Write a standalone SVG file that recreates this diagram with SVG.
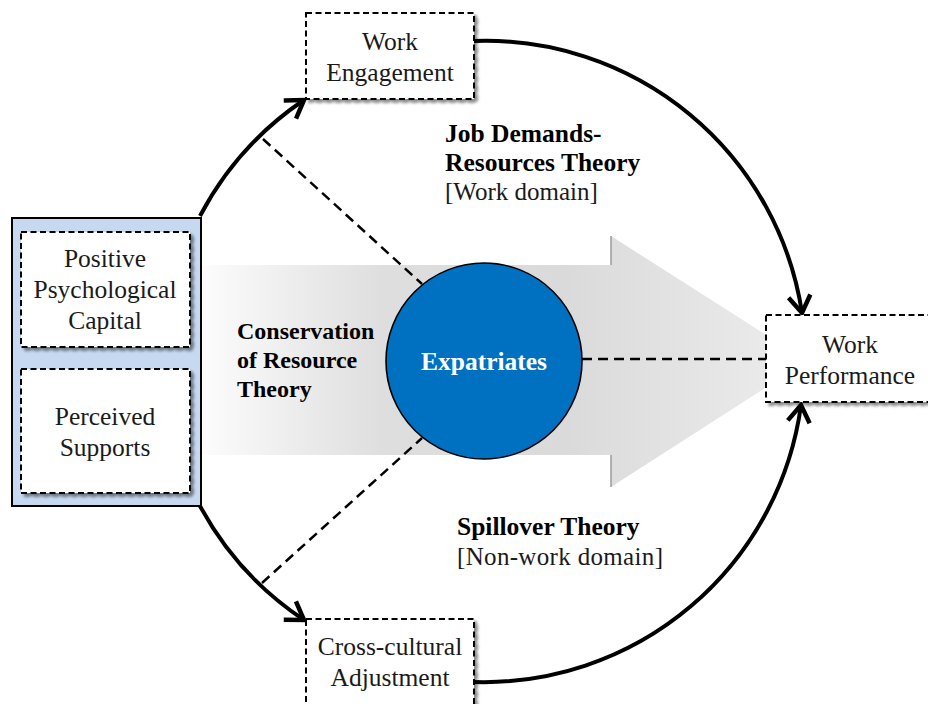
<svg xmlns="http://www.w3.org/2000/svg" width="928" height="704" viewBox="0 0 928 704">
<defs>
<linearGradient id="arrowGrad" gradientUnits="userSpaceOnUse" x1="202" y1="0" x2="807" y2="0">
<stop offset="0" stop-color="#fcfcfc"/>
<stop offset="0.3" stop-color="#dedede"/>
<stop offset="0.6" stop-color="#dadada"/>
<stop offset="1" stop-color="#ededed"/>
</linearGradient>
<filter id="shadow" x="-10%" y="-10%" width="130%" height="130%">
<feGaussianBlur in="SourceAlpha" stdDeviation="1.8"/>
<feOffset dx="2.5" dy="2.5" result="b"/>
<feComponentTransfer><feFuncA type="linear" slope="0.45"/></feComponentTransfer>
<feMerge><feMergeNode/><feMergeNode in="SourceGraphic"/></feMerge>
</filter>
<marker id="open" markerUnits="userSpaceOnUse" markerWidth="34" markerHeight="34" refX="0" refY="0" viewBox="-22 -17 26 34" orient="auto">
<path d="M -17 -11 L 0 0 L -17 11" fill="none" stroke="#000" stroke-width="4.5" stroke-linejoin="miter" stroke-linecap="butt"/>
</marker>
</defs>
<style>
.box{fill:#fff;stroke:#000;stroke-width:2;stroke-dasharray:6 3.5;}
.txt{font-family:"Liberation Serif","Times New Roman",serif;font-size:25.5px;fill:#1a1a1a;text-anchor:middle;}
.bold{font-family:"Liberation Serif","Times New Roman",serif;font-weight:bold;font-size:25.5px;fill:#000;}
.cor{font-family:"Liberation Serif","Times New Roman",serif;font-weight:bold;font-size:24px;fill:#000;}
.reg{font-family:"Liberation Serif","Times New Roman",serif;font-size:25px;fill:#1a1a1a;}
.curve{fill:none;stroke:#000;stroke-width:4;}
.dash{fill:none;stroke:#000;stroke-width:2.5;stroke-dasharray:10 6;}
</style>
<rect width="928" height="704" fill="#fff"/>

<g id="cor-arrow">
<path d="M 202 265 L 611 265 L 611 236 L 807 361 L 611 487 L 611 455 L 202 455 Z" fill="url(#arrowGrad)"/>
<line x1="611" y1="236" x2="611" y2="265" stroke="#9a9a9a" stroke-width="1.5"/>
<line x1="611" y1="455" x2="611" y2="487" stroke="#9a9a9a" stroke-width="1.5"/>
<text class="cor" x="237" y="339">Conservation</text>
<text class="cor" x="237" y="368">of Resource</text>
<text class="cor" x="237" y="397">Theory</text>
</g>

<g id="connectors">
<path class="curve" d="M 200 216 A 319 319 0 0 1 304 100" marker-end="url(#open)"/>
<path class="curve" d="M 474 41 A 320 320 0 0 1 802 313" marker-end="url(#open)"/>
<path class="curve" d="M 200 506 A 319 319 0 0 0 304 620" marker-end="url(#open)"/>
<path class="curve" d="M 474 682 A 320 320 0 0 0 801 405" marker-end="url(#open)"/>
<line class="dash" x1="263" y1="139" x2="422" y2="284"/>
<line class="dash" x1="262" y1="583" x2="422" y2="438"/>
<line class="dash" x1="582" y1="359" x2="766" y2="359"/>
</g>

<g id="antecedents">
<rect x="12" y="218" width="189" height="288" fill="#c6d9f1" stroke="#000" stroke-width="2"/>
</g>

<g id="psycap">
<rect class="box" x="21" y="232" width="169" height="115" filter="url(#shadow)"/>
<text class="txt" x="105" y="267">Positive</text>
<text class="txt" x="105" y="298">Psychological</text>
<text class="txt" x="105" y="329">Capital</text>
</g>

<g id="supports">
<rect class="box" x="21" y="369" width="169" height="124" filter="url(#shadow)"/>
<text class="txt" x="105" y="425">Perceived</text>
<text class="txt" x="105" y="456">Supports</text>
</g>

<g id="engagement">
<rect class="box" x="306" y="13" width="168" height="86" filter="url(#shadow)"/>
<text class="txt" x="390" y="50">Work</text>
<text class="txt" x="390" y="81">Engagement</text>
</g>

<g id="adjustment">
<rect class="box" x="306" y="619" width="168" height="92" filter="url(#shadow)"/>
<text class="txt" x="390" y="655">Cross-cultural</text>
<text class="txt" x="390" y="686">Adjustment</text>
</g>

<g id="performance">
<rect class="box" x="766" y="315" width="168" height="87" filter="url(#shadow)"/>
<text class="txt" x="850" y="353">Work</text>
<text class="txt" x="850" y="384">Performance</text>
</g>

<g id="expatriates">
<circle cx="484" cy="361" r="98" fill="#0070c0" stroke="#000" stroke-width="1.6"/>
<text class="bold" x="484" y="370" text-anchor="middle" style="fill:#fff">Expatriates</text>
</g>

<g id="jdr-label">
<text class="bold" x="445" y="142">Job Demands-</text>
<text class="bold" x="445" y="171">Resources Theory</text>
<text class="reg" x="445" y="200">[Work domain]</text>
</g>

<g id="spillover-label">
<text class="bold" x="457" y="535">Spillover Theory</text>
<text class="reg" x="457" y="565" textLength="206">[Non-work domain]</text>
</g>
</svg>
